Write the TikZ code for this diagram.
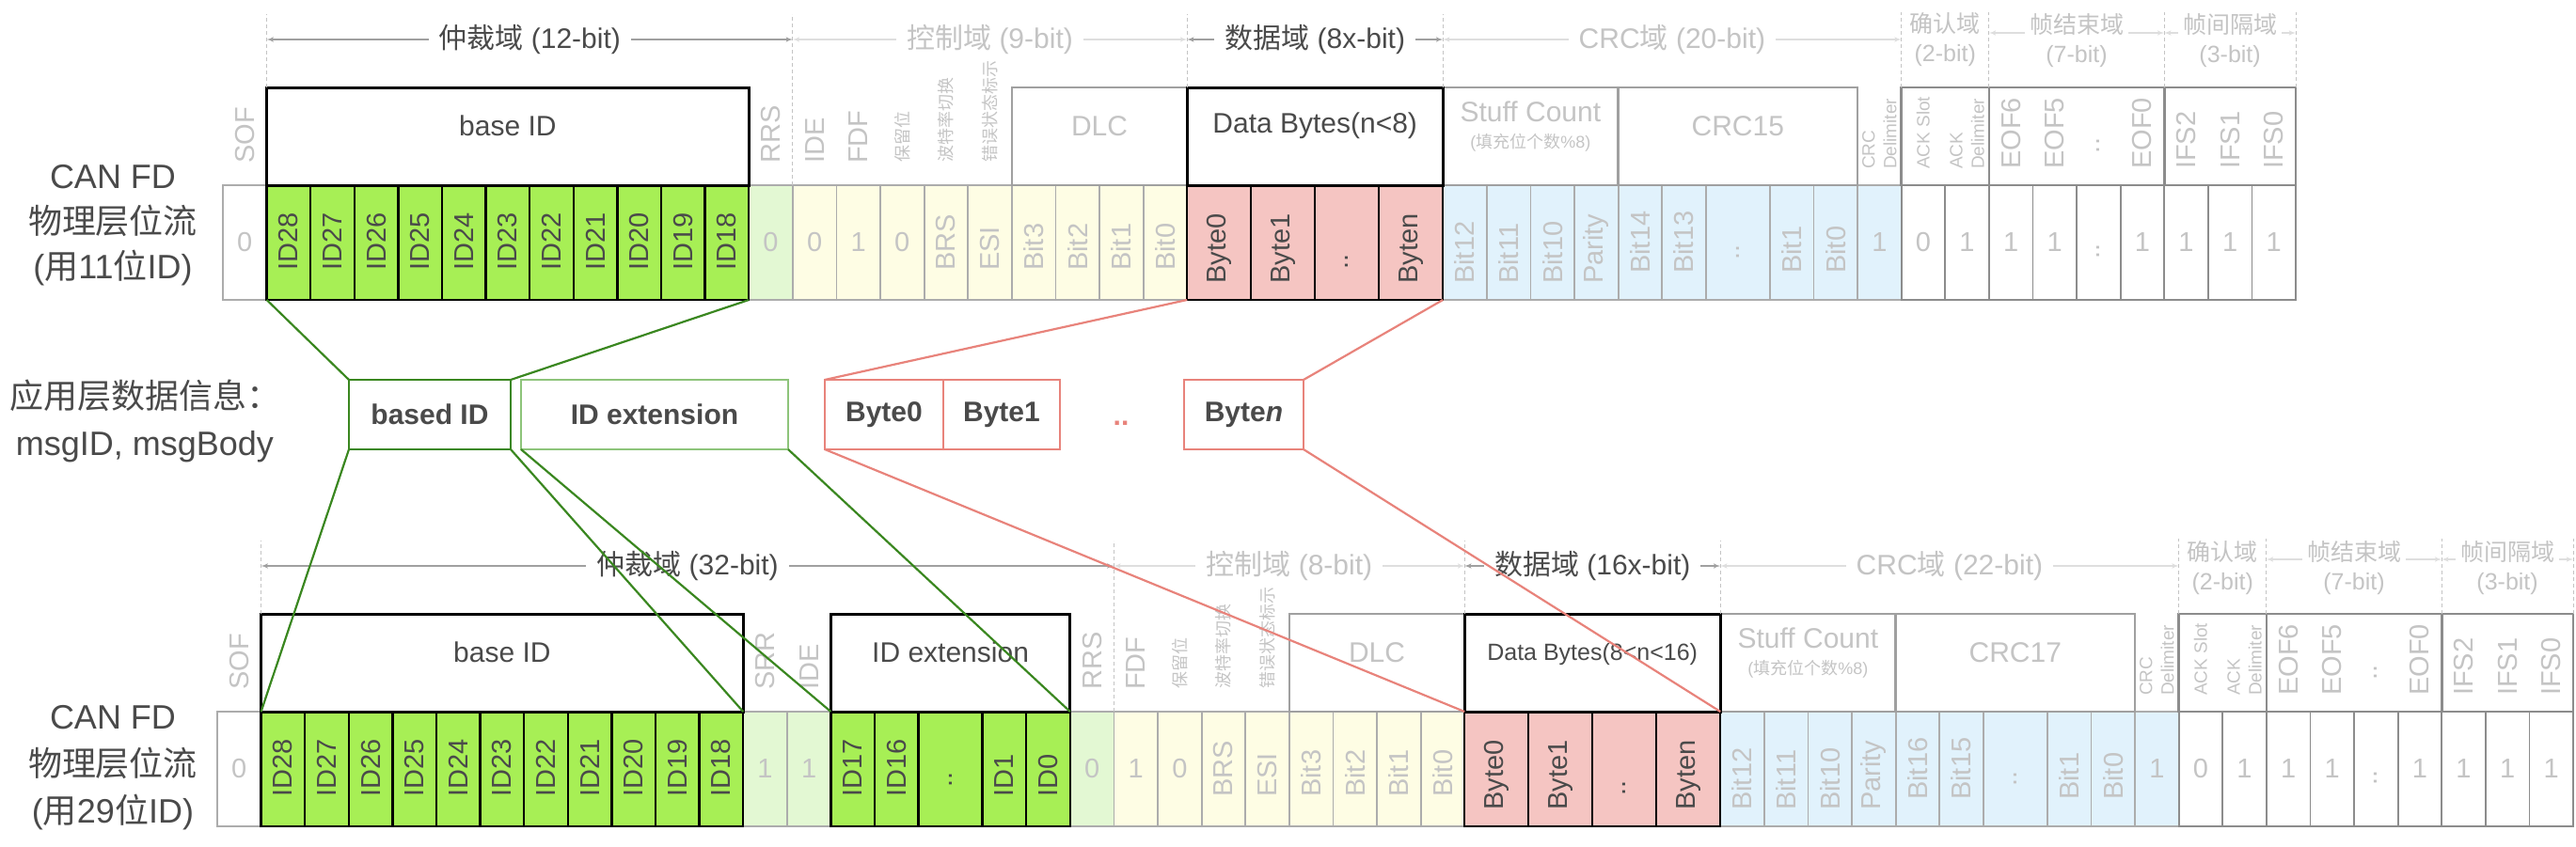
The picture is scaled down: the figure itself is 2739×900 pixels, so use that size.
\documentclass[tikz,border=0pt]{standalone}
\usepackage{fontspec}
\setmainfont{Liberation Sans}
\newfontfamily\cjk{Noto Sans CJK SC}
\usetikzlibrary{arrows, fit}

\definecolor{idgreen}{RGB}{167,239,85}
\definecolor{rrsgreen}{RGB}{227,248,211}
\definecolor{ctlyellow}{RGB}{254,253,228}
\definecolor{bytepink}{RGB}{245,197,194}
\definecolor{crcblue}{RGB}{225,242,252}
\definecolor{cellgray}{RGB}{172,172,172}
\definecolor{endgray}{RGB}{140,140,140}
\definecolor{boxgray}{RGB}{160,160,160}
\definecolor{darktext}{RGB}{74,74,74}
\definecolor{lighttext}{RGB}{196,196,196}
\definecolor{arrowdark}{RGB}{160,160,160}
\definecolor{arrowlight}{RGB}{222,222,222}
\definecolor{linkgreen}{RGB}{58,135,32}
\definecolor{extgreen}{RGB}{141,196,122}
\definecolor{linkred}{RGB}{232,131,123}

\newcommand\cellfont{\fontsize{29}{34}\selectfont}
\newcommand\hdrfont{\fontsize{30}{34}\selectfont}

\begin{document}
\begin{tikzpicture}[x=1pt, y=-1pt, >=latex',
  cell/.style={draw=cellgray, line width=1.8pt, minimum height=122, inner sep=0, outer sep=0, anchor=north west},
  cell-w/.style={fill=white},
  cell-g/.style={fill=idgreen, draw=black, line width=2.4pt},
  cell-G/.style={cell-g},
  cell-l/.style={fill=rrsgreen},
  cell-y/.style={fill=ctlyellow},
  cell-Y/.style={fill=ctlyellow},
  cell-p/.style={fill=bytepink, draw=black, line width=2.4pt},
  cell-P/.style={cell-p},
  cell-u/.style={fill=crcblue},
  cell-U/.style={fill=crcblue},
  cell-x/.style={fill=crcblue},
  cell-o/.style={fill=white, draw=endgray},
  cell-O/.style={cell-o},
  lab/.style={inner sep=0, font=\cellfont, text=lighttext},
  lab-w/.style={lab}, lab-l/.style={lab}, lab-y/.style={lab},
  lab-x/.style={lab}, lab-o/.style={lab},
  lab-g/.style={lab, rotate=90, anchor=west, text=darktext},
  lab-p/.style={lab-g},
  lab-G/.style={lab, rotate=90, text=darktext},
  lab-P/.style={lab-G},
  lab-Y/.style={lab, rotate=90, anchor=west},
  lab-u/.style={lab-Y},
  lab-U/.style={lab, rotate=90},
  lab-O/.style={lab-U},
  hbox/.style={draw=boxgray, line width=2.6pt, inner sep=0, outer sep=0, font=\hdrfont, text=lighttext, align=center},
  hbox-k/.style={hbox, draw=black, line width=3pt, text=darktext},
  vlab/.style={rotate=90, anchor=west, inner sep=0, font=\cellfont, text=lighttext},
  vlab-cjk/.style={vlab, font=\cjk\fontsize{18}{22}\selectfont},
  vlab-sm/.style={vlab, font=\fontsize{19}{23}\selectfont, align=left},
  guide/.style={draw=lighttext, line width=0.9pt, dash pattern=on 4pt off 3pt},
  hdr-d/.style={<->, draw=arrowdark, line width=1.5pt},
  hdr-l/.style={<->, draw=arrowlight, line width=1.5pt},
  hlab-d/.style={fill=white, inner xsep=11pt, inner ysep=2pt, font=\hdrfont, text=darktext},
  hlab-l/.style={hlab-d, text=lighttext},
  hlab2/.style={fill=white, inner xsep=5pt, inner ysep=0pt, align=center, font=\fontsize{25}{31}\selectfont, text=lighttext},
  side/.style={align=center, font=\fontsize{36}{48}\selectfont, text=darktext},
  mbox/.style={anchor=north west, minimum height=74, inner sep=0, outer sep=0, fill=white, font=\bfseries\fontsize{30}{34}\selectfont, text=darktext},
  lnk-g/.style={draw=linkgreen, line width=2.2pt},
  lnk-r/.style={draw=linkred, line width=2.2pt}]
\useasboundingbox (0,0) rectangle (2739,900);

% bit stream, 11 bit ID
\gdef\cx{237}
\foreach \nm/\wid/\knd/\txt/\off in {SOF/46.6/w/0/61pt,
  ID28/46.6/g/ID28/31pt, ID27/46.6/g/ID27/31pt, ID26/46.6/g/ID26/31pt, ID25/46.6/g/ID25/31pt,
  ID24/46.6/g/ID24/31pt, ID23/46.6/g/ID23/31pt, ID22/46.6/g/ID22/31pt, ID21/46.6/g/ID21/31pt,
  ID20/46.6/g/ID20/31pt, ID19/46.6/g/ID19/31pt, ID18/46.6/g/ID18/31pt,
  RRS/46.6/l/0/61pt,
  IDE/46.6/y/0/61pt, FDF/46.6/y/1/61pt, RES/46.6/y/0/61pt, BRS/46.6/Y/BRS/31pt, ESI/46.6/Y/ESI/31pt,
  D3/46.6/Y/Bit3/31pt, D2/46.6/Y/Bit2/31pt, D1/46.6/Y/Bit1/31pt, D0/46.6/Y/Bit0/31pt,
  B0/68/p/Byte0/17pt, B1/68/p/Byte1/17pt, BD/68/P/../41pt, Bn/68/p/Byten/17pt,
  S12/46.6/u/Bit12/17pt, S11/46.6/u/Bit11/17pt, S10/46.6/u/Bit10/17pt, PAR/46.6/u/Parity/17pt,
  C14/46.6/u/Bit14/28pt, C13/46.6/u/Bit13/28pt, CD/68/U/../51pt, C1/46.6/u/Bit1/28pt, C0/46.6/u/Bit0/28pt,
  DEL/46.6/x/1/61pt, A0/46.6/o/0/61pt, A1/46.6/o/1/61pt,
  E6/46.6/o/1/61pt, E5/46.6/o/1/61pt, ED/46.6/O/../52pt, E0/46.6/o/1/61pt,
  I2/46.6/o/1/61pt, I1/46.6/o/1/61pt, I0/46.6/o/1/61pt}{
  \node[cell, cell-\knd, minimum width=\wid] (t\nm) at (\cx,197) {};
  \node[lab-\knd] (t\nm-l) at ([yshift=\off]t\nm.south) {\txt};
  \pgfmathsetmacro\nx{\cx+\wid}
  \xdef\cx{\nx}
}

% bit stream, 29 bit ID
\gdef\cx{231}
\foreach \nm/\wid/\knd/\txt/\off in {SOF/46.6/w/0/61pt,
  ID28/46.6/g/ID28/31pt, ID27/46.6/g/ID27/31pt, ID26/46.6/g/ID26/31pt, ID25/46.6/g/ID25/31pt,
  ID24/46.6/g/ID24/31pt, ID23/46.6/g/ID23/31pt, ID22/46.6/g/ID22/31pt, ID21/46.6/g/ID21/31pt,
  ID20/46.6/g/ID20/31pt, ID19/46.6/g/ID19/31pt, ID18/46.6/g/ID18/31pt,
  SRR/46.6/l/1/61pt, IDE/46.6/l/1/61pt,
  ID17/46.6/g/ID17/31pt, ID16/46.6/g/ID16/31pt, IDD/68/G/../50pt, ID1/46.6/g/ID1/31pt, ID0/46.6/g/ID0/31pt,
  RRS/46.6/l/0/61pt,
  FDF/46.6/y/1/61pt, RES/46.6/y/0/61pt, BRS/46.6/Y/BRS/31pt, ESI/46.6/Y/ESI/31pt,
  D3/46.6/Y/Bit3/31pt, D2/46.6/Y/Bit2/31pt, D1/46.6/Y/Bit1/31pt, D0/46.6/Y/Bit0/31pt,
  B0/68/p/Byte0/17pt, B1/68/p/Byte1/17pt, BD/68/P/../41pt, Bn/68/p/Byten/17pt,
  S12/46.6/u/Bit12/17pt, S11/46.6/u/Bit11/17pt, S10/46.6/u/Bit10/17pt, PAR/46.6/u/Parity/17pt,
  C16/46.6/u/Bit16/28pt, C15/46.6/u/Bit15/28pt, CD/68/U/../51pt, C1/46.6/u/Bit1/28pt, C0/46.6/u/Bit0/28pt,
  DEL/46.6/x/1/61pt, A0/46.6/o/0/61pt, A1/46.6/o/1/61pt,
  E6/46.6/o/1/61pt, E5/46.6/o/1/61pt, ED/46.6/O/../52pt, E0/46.6/o/1/61pt,
  I2/46.6/o/1/61pt, I1/46.6/o/1/61pt, I0/46.6/o/1/61pt}{
  \node[cell, cell-\knd, minimum width=\wid] (b\nm) at (\cx,757) {};
  \node[lab-\knd] (b\nm-l) at ([yshift=\off]b\nm.south) {\txt};
  \pgfmathsetmacro\nx{\cx+\wid}
  \xdef\cx{\nx}
}

% black frames of the used fields
\draw[black, line width=2.4pt] (tID28.north west) rectangle (tID18.south east);
\draw[black, line width=2.4pt] (tB0.north west) rectangle (tBn.south east);
\draw[black, line width=2.4pt] (bID28.north west) rectangle (bID18.south east);
\draw[black, line width=2.4pt] (bID17.north west) rectangle (bID0.south east);
\draw[black, line width=2.4pt] (bB0.north west) rectangle (bBn.south east);

% field boxes
\node[hbox, fit={([yshift=104pt]tD3.north west) (tD0.north east)}] (thDLC) {DLC};
\node[hbox, fit={([yshift=104pt]tS12.north west) (tPAR.north east)}] (thStuff)
  {Stuff Count\\[-6pt]{\fontsize{18}{22}\selectfont ({\cjk 填充位个数}\%8)}};
\node[hbox, fit={([yshift=104pt]tC14.north west) (tC0.north east)}] (thCRC) {CRC15};
\node[hbox, draw=endgray, fit={([yshift=104pt]tA0.north west) (tA1.north east)}] (thACK) {};
\node[hbox, draw=endgray, fit={([yshift=104pt]tE6.north west) (tE0.north east)}] (thEOF) {};
\node[hbox, draw=endgray, fit={([yshift=104pt]tI2.north west) (tI0.north east)}] (thIFS) {};
\node[hbox-k, fit={([yshift=104pt]tID28.north west) (tID18.north east)}] (thBase) {base ID};
\node[hbox-k, fit={([yshift=104pt]tB0.north west) (tBn.north east)}] (thData) {Data Bytes(n<8)};

\node[hbox, fit={([yshift=104pt]bD3.north west) (bD0.north east)}] (bhDLC) {DLC};
\node[hbox, fit={([yshift=104pt]bS12.north west) (bPAR.north east)}] (bhStuff)
  {Stuff Count\\[-6pt]{\fontsize{18}{22}\selectfont ({\cjk 填充位个数}\%8)}};
\node[hbox, fit={([yshift=104pt]bC16.north west) (bC0.north east)}] (bhCRC) {CRC17};
\node[hbox, draw=endgray, fit={([yshift=104pt]bA0.north west) (bA1.north east)}] (bhACK) {};
\node[hbox, draw=endgray, fit={([yshift=104pt]bE6.north west) (bE0.north east)}] (bhEOF) {};
\node[hbox, draw=endgray, fit={([yshift=104pt]bI2.north west) (bI0.north east)}] (bhIFS) {};
\node[hbox-k, fit={([yshift=104pt]bID28.north west) (bID18.north east)}] (bhBase) {base ID};
\node[hbox-k, fit={([yshift=104pt]bID17.north west) (bID0.north east)}] (bhExt) {ID extension};
\node[hbox-k, font=\fontsize{25}{30}\selectfont, fit={([yshift=104pt]bB0.north west) (bBn.north east)}] (bhData)
  {Data Bytes(8<n<16)};

% bit names
\foreach \rw in {t,b}{
  \foreach \cn/\lb in {SOF/SOF, RRS/RRS, IDE/IDE, FDF/FDF}
    \node[vlab] (\rw l\cn) at ([yshift=23pt]\rw\cn.north) {\lb};
  \foreach \cn/\lb in {RES/保留位, BRS/波特率切换, ESI/错误状态标示}
    \node[vlab-cjk] (\rw l\cn) at ([yshift=24pt]\rw\cn.north) {\lb};
  \foreach \cn/\lb in {E6/EOF6, E5/EOF5, E0/EOF0, I2/IFS2, I1/IFS1, I0/IFS0}
    \node[vlab] (\rw l\cn) at ([yshift=17pt]\rw\cn.north) {\lb};
  \node[vlab, anchor=center] (\rw lED) at ([yshift=42pt]\rw ED.north) {..};
  \node[vlab-sm] (\rw lDEL) at ([yshift=17pt]\rw DEL.north) {CRC\\Delimiter};
  \node[vlab-sm] (\rw lA0) at ([yshift=17pt]\rw A0.north) {ACK Slot};
  \node[vlab-sm] (\rw lA1) at ([yshift=17pt]\rw A1.north) {ACK\\Delimiter};
}
\node[vlab] (blSRR) at ([yshift=23pt]bSRR.north) {SRR};

% field guides
\draw[guide] (thBase.north west) -- (thBase.north west |- 0,15);
\draw[guide] (tRRS.north east) -- (tRRS.north east |- 0,15);
\draw[guide] (thData.north west) -- (thData.north west |- 0,15);
\draw[guide] (thData.north east) -- (thData.north east |- 0,15);
\draw[guide] (thACK.north west) -- (thACK.north west |- 0,13);
\draw[guide] (thEOF.north west) -- (thEOF.north west |- 0,13);
\draw[guide] (thIFS.north west) -- (thIFS.north west |- 0,13);
\draw[guide] (thIFS.north east) -- (thIFS.north east |- 0,13);
\draw[guide] (bhBase.north west) -- (bhBase.north west |- 0,575);
\draw[guide] (bRRS.north east) -- (bRRS.north east |- 0,575);
\draw[guide] (bhData.north west) -- (bhData.north west |- 0,575);
\draw[guide] (bhData.north east) -- (bhData.north east |- 0,575);
\draw[guide] (bhACK.north west) -- (bhACK.north west |- 0,573);
\draw[guide] (bhEOF.north west) -- (bhEOF.north west |- 0,573);
\draw[guide] (bhIFS.north west) -- (bhIFS.north west |- 0,573);
\draw[guide] (bhIFS.north east) -- (bhIFS.north east |- 0,573);

% field names
\draw[hdr-d] (tID28.north west |- 0,42) -- node[hlab-d] (tArb) {{\cjk 仲裁域} (12-bit)} (tRRS.north east |- 0,42);
\draw[hdr-l] (tIDE.north west |- 0,42) -- node[hlab-l] (tCtl) {{\cjk 控制域} (9-bit)} (tD0.north east |- 0,42);
\draw[hdr-d] (tB0.north west |- 0,42) -- node[hlab-d] (tDat) {{\cjk 数据域} (8x-bit)} (tBn.north east |- 0,42);
\draw[hdr-l] (tS12.north west |- 0,42) -- node[hlab-l] (tCrc) {CRC{\cjk 域} (20-bit)} (tDEL.north east |- 0,42);
\node[hlab2] (tAck) at (tA0.north east |- 0,42) {{\cjk 确认域}\\(2-bit)};
\draw[hdr-l] (tE6.north west |- 0,35) -- node[hlab2, yshift=-8pt] (tEof) {{\cjk 帧结束域}\\(7-bit)} (tE0.north east |- 0,35);
\draw[hdr-l] (tI2.north west |- 0,35) -- node[hlab2, yshift=-8pt] (tIfs) {{\cjk 帧间隔域}\\(3-bit)} (tI0.north east |- 0,35);

\draw[hdr-d] (bID28.north west |- 0,602) -- node[hlab-d] (bArb) {{\cjk 仲裁域} (32-bit)} (bRRS.north east |- 0,602);
\draw[hdr-l] (bFDF.north west |- 0,602) -- node[hlab-l] (bCtl) {{\cjk 控制域} (8-bit)} (bD0.north east |- 0,602);
\draw[hdr-d] (bB0.north west |- 0,602) -- node[hlab-d] (bDat) {{\cjk 数据域} (16x-bit)} (bBn.north east |- 0,602);
\draw[hdr-l] (bS12.north west |- 0,602) -- node[hlab-l] (bCrc) {CRC{\cjk 域} (22-bit)} (bDEL.north east |- 0,602);
\node[hlab2] (bAck) at (bA0.north east |- 0,604) {{\cjk 确认域}\\(2-bit)};
\draw[hdr-l] (bE6.north west |- 0,595) -- node[hlab2, yshift=-9pt] (bEof) {{\cjk 帧结束域}\\(7-bit)} (bE0.north east |- 0,595);
\draw[hdr-l] (bI2.north west |- 0,595) -- node[hlab2, yshift=-9pt] (bIfs) {{\cjk 帧间隔域}\\(3-bit)} (bI0.north east |- 0,595);

% row names
\node[side] (tSide) at (120,240) {CAN FD\\{\cjk 物理层位流}\\({\cjk 用}11{\cjk 位}ID)};
\node[side, font=\fontsize{36}{50}\selectfont] (bSide) at (120,817) {CAN FD\\{\cjk 物理层位流}\\({\cjk 用}29{\cjk 位}ID)};
\node[side, font=\fontsize{36}{50}\selectfont] (mSide) at (154,448) {{\cjk 应用层数据信息：}\\msgID, msgBody};

% application message
\node[mbox, draw=linkgreen, line width=2pt, minimum width=172] (mBase) at (371,404) {based ID};
\node[mbox, draw=extgreen, line width=1.4pt, minimum width=284] (mExt) at (554,404) {ID extension};
\node[mbox, draw=linkred, line width=1.4pt, minimum width=126] (mB0) at (877,404) {Byte0};
\node[mbox, draw=linkred, line width=1.4pt, minimum width=124] (mB1) at (1003,404) {Byte1};
\node[font=\bfseries\hdrfont, text=linkred, inner sep=0] (mDots) at (1192,450) {..};
\node[mbox, draw=linkred, line width=1.4pt, minimum width=127] (mBn) at (1259,404) {Byte\textit{n}};

% mapping
\draw[lnk-g] (tID28.south west) -- (mBase.north west);
\draw[lnk-g] (tID18.south east) -- (mBase.north east);
\draw[lnk-g] (mBase.south west) -- (bID28.north west);
\draw[lnk-g] (mBase.south east) -- (bID18.north east);
\draw[lnk-g] (mExt.south west) -- (bID17.north west);
\draw[lnk-g] (mExt.south east) -- (bID0.north east);
\draw[lnk-r] (tB0.south west) -- (mB0.north west);
\draw[lnk-r] (tBn.south east) -- (mBn.north east);
\draw[lnk-r] (mB0.south west) -- (bB0.north west);
\draw[lnk-r] (mBn.south east) -- (bBn.north east);
\end{tikzpicture}
\end{document}
